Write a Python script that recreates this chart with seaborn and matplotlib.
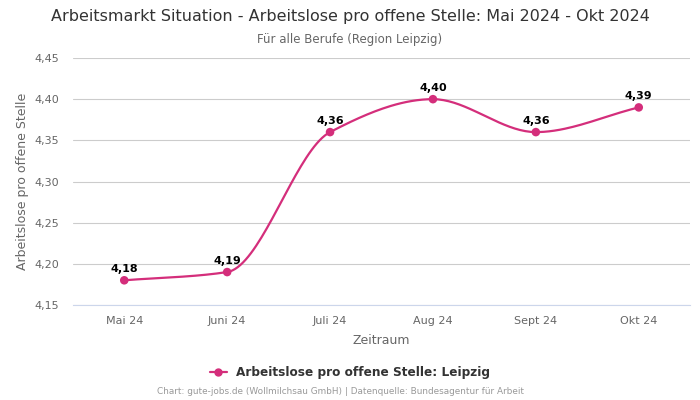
import numpy as np
import pandas as pd
import matplotlib
matplotlib.use("Agg")
import matplotlib.pyplot as plt
import seaborn as sns

months = ["Mai 24", "Juni 24", "Juli 24", "Aug 24", "Sept 24", "Okt 24"]
values = [4.18, 4.19, 4.36, 4.40, 4.36, 4.39]
labels = ["4,18", "4,19", "4,36", "4,40", "4,36", "4,39"]
y_ticks = [4.15, 4.20, 4.25, 4.30, 4.35, 4.40, 4.45]

color = "#d42e7b"


def monotone_curve(x, y, n=40):
    # Fritsch-Carlson monotone cubic, like a smoothed line
    x = np.asarray(x, float)
    y = np.asarray(y, float)
    h = np.diff(x)
    d = np.diff(y) / h
    m = np.zeros_like(y)
    m[0], m[-1] = d[0], d[-1]
    for i in range(1, len(y) - 1):
        if d[i - 1] * d[i] <= 0:
            m[i] = 0
        else:
            m[i] = 3 * (h[i - 1] + h[i]) / ((2 * h[i] + h[i - 1]) / d[i - 1] + (h[i] + 2 * h[i - 1]) / d[i])
    xs, ys = [], []
    for i in range(len(x) - 1):
        t = np.linspace(0, 1, n)
        h00 = 2 * t**3 - 3 * t**2 + 1
        h10 = t**3 - 2 * t**2 + t
        h01 = -2 * t**3 + 3 * t**2
        h11 = t**3 - t**2
        xs.append(x[i] + t * h[i])
        ys.append(h00 * y[i] + h10 * h[i] * m[i] + h01 * y[i + 1] + h11 * h[i] * m[i + 1])
    return np.concatenate(xs), np.concatenate(ys)


df = pd.DataFrame({"x": range(len(months)), "Zeitraum": months, "value": values})

sns.set_theme(style="white")
plt.rcParams["font.family"] = ["DejaVu Sans"]

fig = plt.figure(figsize=(7, 4), dpi=100)
ax = fig.add_axes([0.104, 0.2375, 0.882, 0.6175])

cx, cy = monotone_curve(df["x"], df["value"])
ax.plot(cx, cy, color=color, lw=1.6, zorder=3)
sns.scatterplot(data=df, x="x", y="value", color=color, s=38, edgecolor="none", zorder=4, ax=ax, legend=False)

for xi, v, lab in zip(df["x"], values, labels):
    ax.annotate(lab, (xi, v), xytext=(0, 4.5), textcoords="offset points",
                ha="center", va="bottom", fontsize=8, fontweight="bold", color="black")

ax.set_xlim(-0.5, len(months) - 0.5)
ax.set_ylim(4.15, 4.45)
ax.set_yticks(y_ticks)
ax.set_yticklabels([f"{t:.2f}".replace(".", ",") for t in y_ticks])
ax.set_xticks(df["x"])
ax.set_xticklabels(months)
ax.tick_params(axis="both", labelsize=8, labelcolor="#666666", length=0)
ax.tick_params(axis="x", pad=8)
ax.tick_params(axis="y", pad=10)
ax.grid(axis="y", color="#cccccc", lw=0.8)
ax.set_axisbelow(True)
for s in ["top", "right", "left"]:
    ax.spines[s].set_visible(False)
ax.spines["bottom"].set_color("#ccd6eb")
ax.spines["bottom"].set_linewidth(0.8)

ax.set_xlabel("Zeitraum", fontsize=9, color="#666666", labelpad=6)
ax.set_ylabel("Arbeitslose pro offene Stelle", fontsize=9, color="#666666", labelpad=4)

fig.text(0.5, 0.958, "Arbeitsmarkt Situation - Arbeitslose pro offene Stelle: Mai 2024 - Okt 2024",
         ha="center", va="center", fontsize=11.5, color="#333333")
fig.text(0.5, 0.902, "Für alle Berufe (Region Leipzig)", ha="center", va="center",
         fontsize=8.5, color="#666666")

handle = plt.Line2D([], [], color=color, marker="o", markersize=5, lw=1.6)
fig.legend([handle], ["Arbeitslose pro offene Stelle: Leipzig"], loc="center",
           bbox_to_anchor=(0.5, 0.068), frameon=False, handlelength=1.4,
           prop={"size": 8.7, "weight": "bold"}, labelcolor="#333333")

fig.text(0.486, 0.02, "Chart: gute-jobs.de (Wollmilchsau GmbH) | Datenquelle: Bundesagentur für Arbeit",
         ha="center", va="center", fontsize=6.4, color="#999999")

fig.savefig("out.png", dpi=100)
